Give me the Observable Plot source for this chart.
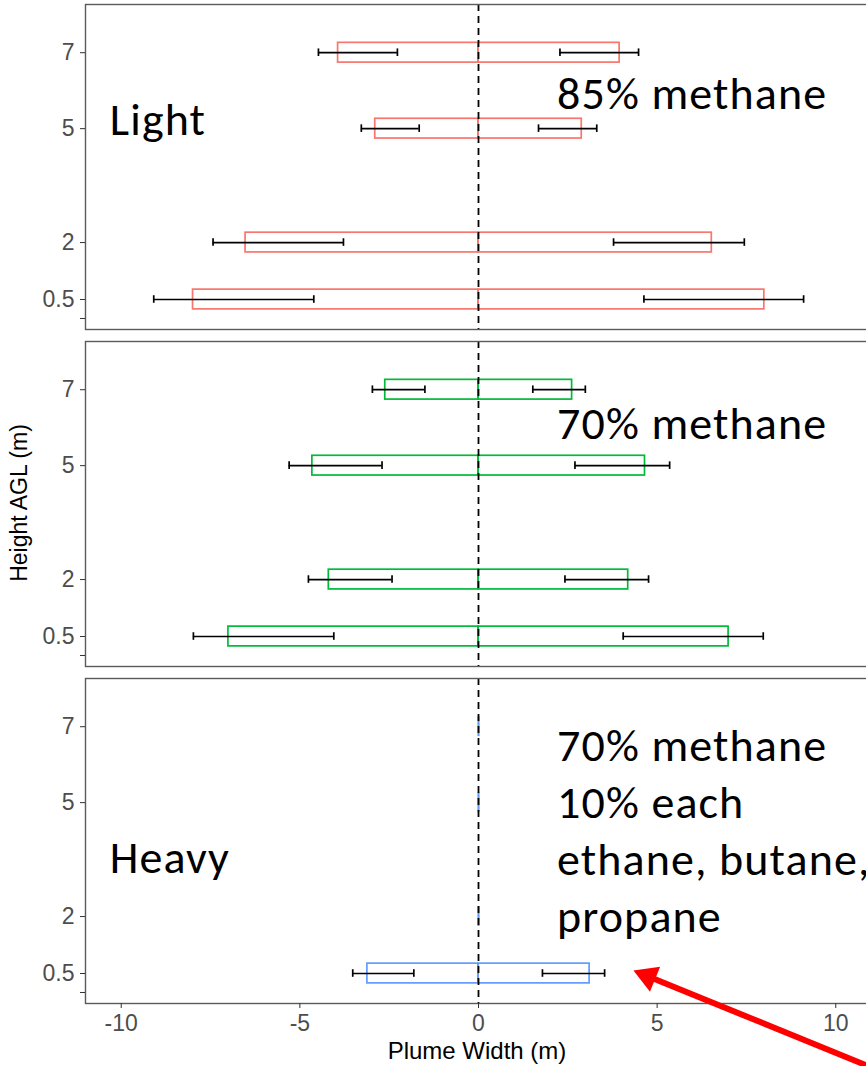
<!DOCTYPE html>
<html><head><meta charset="utf-8">
<script src="https://cdn.jsdelivr.net/npm/d3@7"></script>
<script src="https://cdn.jsdelivr.net/npm/@observablehq/plot@0.6"></script>
<style>
html,body{margin:0;padding:0;overflow:hidden;background:#fff;}
#chart{width:866px;height:1066px;overflow:hidden;position:relative;}
</style></head><body><div id="chart"></div>
<script>
// ---- data ----
const facets = ["Light", "Medium", "Heavy"];
const heightsAGL = [7, 5, 2, 0.5];
const yTicks = [0, 0.5, 2, 5, 7];
const yTickLabels = ["", "0.5", "2", "5", "7"];
const xTicks = [-10, -5, 0, 5, 10];
const xTickLabels = ["-10", "-5", "0", "5", "10"];
const facetColors = ["#F8766D", "#00BA38", "#619CFF"];

// Light (85% methane)
const lightLeft    = [-3.93, -2.89, -6.52, -7.99];
const lightLeftLo  = [-4.48, -3.28, -7.43, -9.09];
const lightLeftHi  = [-2.27, -1.66, -3.78, -4.61];
const lightRight   = [3.95, 2.89, 6.53, 8.00];
const lightRightLo = [2.28, 1.68, 3.78, 4.63];
const lightRightHi = [4.48, 3.31, 7.44, 9.10];
// Medium (70% methane)
const midLeft    = [-2.61, -4.65, -4.19, -7.00];
const midLeftLo  = [-2.97, -5.30, -4.76, -7.98];
const midLeftHi  = [-1.50, -2.70, -2.42, -4.05];
const midRight   = [2.62, 4.66, 4.19, 7.00];
const midRightLo = [1.52, 2.70, 2.42, 4.05];
const midRightHi = [2.99, 5.35, 4.76, 7.97];
// Heavy
const heavyLeft    = [0, 0, 0, -3.11];
const heavyLeftLo  = [null, null, null, -3.52];
const heavyLeftHi  = [null, null, null, -1.81];
const heavyRight   = [0, 0, 0, 3.11];
const heavyRightLo = [null, null, null, 1.79];
const heavyRightHi = [null, null, null, 3.53];

// annotations
const noteFacet = ["Light", "Light", "Medium", "Heavy", "Heavy"];
const noteText = ["Light", "85% methane", "70% methane", "Heavy", "70% methane\n10% each\nethane, butane,\npropane"];
const noteX = [-10.32, 2.2, 2.2, -10.32, 2.2];
const noteY = [4.82, 5.53, 5.71, 3.14, 1.59];

// arrow (tail -> tip), in data units of the Heavy panel
const arrowFacet = "Heavy";
const arrowTail = [11.28, -2.08];
const arrowTip = [4.34, 0.58];

// ---- tables ----
const groups = [
  ["Light", [lightLeft, lightLeftLo, lightLeftHi], [lightRight, lightRightLo, lightRightHi]],
  ["Medium", [midLeft, midLeftLo, midLeftHi], [midRight, midRightLo, midRightHi]],
  ["Heavy", [heavyLeft, heavyLeftLo, heavyLeftHi], [heavyRight, heavyRightLo, heavyRightHi]]
];
const rows = [];
for (const [facet, ...sides] of groups) {
  for (const [box, lo, hi] of sides) {
    heightsAGL.forEach((h, i) => rows.push({facet, y: h, x: box[i], lo: lo[i], hi: hi[i]}));
  }
}
const boxes = rows.filter(d => d.x !== 0);
const flatBoxes = rows.filter(d => d.x === 0);
const errs = rows.filter(d => d.lo != null);
const notes = noteText.map((t, i) => ({facet: noteFacet[i], text: t, x: noteX[i], y: noteY[i]}));
const arrows = [{facet: arrowFacet, x1: arrowTail[0], y1: arrowTail[1], x2: arrowTip[0], y2: arrowTip[1]}];

const BOX = 0.26, CAP = 0.1;
const yFmt = d => yTickLabels[yTicks.indexOf(d)];
const xFmt = d => xTickLabels[xTicks.indexOf(d)];

const plot = Plot.plot({
  width: 871, height: 1066,
  marginLeft: 85, marginRight: 0, marginTop: 4, marginBottom: 63,
  style: {fontFamily: "'Liberation Sans', Arial, sans-serif", maxWidth: "none", overflow: "visible", background: "white"},
  x: {domain: [-11, 11]},
  y: {domain: [-0.29, 8.27]},
  fy: {domain: facets, axis: null, paddingInner: 0.037, paddingOuter: 0},
  color: {domain: facets, range: facetColors},
  marks: [
    Plot.rect(boxes, {x1: 0, x2: "x", y1: d => d.y - BOX, y2: d => d.y + BOX, fy: "facet", stroke: "facet", fill: "none", strokeWidth: 1.7}),
    Plot.ruleX(flatBoxes, {x: "x", y1: d => d.y - BOX, y2: d => d.y + BOX, fy: "facet", stroke: "facet", strokeWidth: 1.7}),
    Plot.ruleX([0], {stroke: "black", strokeDasharray: "7,5", strokeWidth: 1.8}),
    Plot.ruleY(errs, {x1: "lo", x2: "hi", y: "y", fy: "facet", stroke: "black", strokeWidth: 1.7}),
    Plot.ruleX(errs, {x: "lo", y1: d => d.y - CAP, y2: d => d.y + CAP, fy: "facet", stroke: "black", strokeWidth: 1.7}),
    Plot.ruleX(errs, {x: "hi", y1: d => d.y - CAP, y2: d => d.y + CAP, fy: "facet", stroke: "black", strokeWidth: 1.7}),
    Plot.frame({stroke: "#5a5a5a", strokeWidth: 1.4}),
    Plot.axisY(yTicks, {tickFormat: yFmt, tickSize: 5, tickPadding: 6, fontSize: 23, fill: "#4D4D4D", stroke: "#333", label: null}),
    Plot.axisX(xTicks, {tickFormat: xFmt, tickSize: 5, tickPadding: 6, fontSize: 23, fill: "#4D4D4D", stroke: "#333", label: null}),
    Plot.text(notes, {x: "x", y: "y", fy: "facet", text: "text", textAnchor: "start", lineAnchor: "bottom", fontSize: 46, lineHeight: 1.24, fontFamily: "Carlito, Lato, sans-serif", fill: "black"}),
    Plot.arrow(arrows, {x1: "x1", y1: "y1", x2: "x2", y2: "y2", fy: "facet", stroke: "#FF0000", strokeWidth: 6, headLength: 0, insetEnd: 14, strokeLinecap: "butt"}),
    Plot.dot(arrows, {x: "x2", y: "y2", fy: "facet", symbol: "triangle", r: 10, fill: "#FF0000", stroke: "none", rotate: -67.8, dx: 14.3, dy: 5.9})
  ]
});

const svg = d3.select(plot);
svg.selectAll("g[aria-label='text'] text").attr("letter-spacing", "1.1px");
svg.append("text")
  .attr("transform", "translate(27,503) rotate(-90)")
  .attr("text-anchor", "middle")
  .attr("font-size", 23)
  .attr("fill", "black")
  .text("Height AGL (m)");
svg.append("text")
  .attr("x", 477).attr("y", 1059)
  .attr("text-anchor", "middle")
  .attr("font-size", 24)
  .attr("fill", "black")
  .text("Plume Width (m)");

document.getElementById("chart").appendChild(plot);
</script></body></html>
